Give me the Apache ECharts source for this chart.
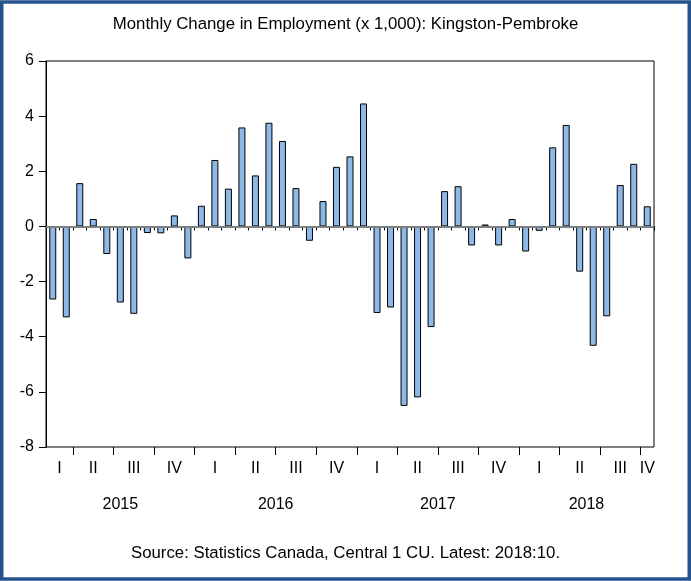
<!DOCTYPE html>
<html>
<head>
<meta charset="utf-8">
<script src="https://cdn.jsdelivr.net/npm/echarts@6/dist/echarts.min.js"></script>
<style>
    html, body { margin: 0; padding: 0; background: #fff; }
    #chart { width: 691px; height: 581px; }
</style>
</head>
<body>
<div id="chart"></div>
<script>
// first month on the chart: 2015:02, last: 2018:10
var startYear = 2015;
var startMonth = 2;

// monthly change in employment, thousands
var values2015 = [-2.65, -3.3, 1.57, 0.27, -1.0, -2.76, -3.17, -0.24, -0.25, 0.4, -1.16];
var values2016 = [0.75, 2.41, 1.37, 3.59, 1.85, 3.76, 3.1, 1.39, -0.52, 0.92, 2.16, 2.54];
var values2017 = [4.46, -3.14, -2.94, -6.51, -6.2, -3.65, 1.28, 1.46, -0.69, 0.07, -0.69, 0.27];
var values2018 = [-0.91, -0.16, 2.87, 3.68, -1.64, -4.33, -3.26, 1.5, 2.27, 0.73];

var quarterNames = ['I', 'II', 'III', 'IV'];
var yearNames = ['2015', '2016', '2017', '2018'];

var yMin = -8, yMax = 6, yStep = 2;

var font = "'Liberation Sans', Arial, sans-serif";

var values = values2015.concat(values2016, values2017, values2018);
var n = values.length;

// month / year of every bar
var months = [], years = [];
for (var i = 0; i < n; i++) {
    var m = startMonth - 1 + i;
    months.push(m % 12);
    years.push(startYear + Math.floor(m / 12));
}

var barData = values.map(function (v, i) { return [i + 0.5, v]; });

// quarter and year segments along the month axis
var quarterStarts = [], quarterCenters = [], quarterText = {};
var yearCenters = [], yearText = {};
var qStart = 0, yStart = 0;
for (var i = 1; i <= n; i++) {
    if (i === n || months[i] % 3 === 0) {
        var c = (qStart + i) / 2;
        quarterCenters.push(c);
        quarterText[c] = quarterNames[Math.floor(months[qStart] / 3)];
        if (i < n) quarterStarts.push(i);
        qStart = i;
    }
    if (i === n || months[i] === 0) {
        var yc = (yStart + i) / 2;
        yearCenters.push(yc);
        yearText[yc] = yearNames[years[yStart] - startYear];
        yStart = i;
    }
}

var option = {
    animation: false,
    backgroundColor: '#fff',
    textStyle: { fontFamily: font },
    title: [
        {
            text: 'Monthly Change in Employment (x 1,000): Kingston-Pembroke',
            left: 'center', top: 11,
            textStyle: { fontFamily: font, fontSize: 16.8, fontWeight: 'normal', color: '#000' }
        },
        {
            text: 'Source: Statistics Canada, Central 1 CU. Latest: 2018:10.',
            left: 'center', top: 540,
            textStyle: { fontFamily: font, fontSize: 16.8, fontWeight: 'normal', color: '#000' }
        }
    ],
    graphic: [{
        type: 'rect',
        shape: { x: 1.75, y: 2, width: 687.5, height: 577 },
        style: { fill: 'none', stroke: '#24528C', lineWidth: 3.5 },
        silent: true
    }],
    grid: {
        left: 46, top: 61, width: 608, height: 386,
        show: true, borderColor: '#000', borderWidth: 1
    },
    xAxis: [
        {
            type: 'value', min: 0, max: n, interval: 1,
            axisLine: { show: true, lineStyle: { color: '#000', width: 1 } },
            axisTick: { show: true, length: 4, lineStyle: { color: '#000' } },
            axisLabel: { show: false },
            splitLine: { show: false }
        },
        {
            type: 'value', min: 0, max: n, position: 'bottom',
            axisLine: { show: false },
            axisTick: { show: true, length: 8, customValues: quarterStarts, lineStyle: { color: '#000' } },
            axisLabel: {
                show: true, customValues: quarterCenters, margin: 14,
                fontSize: 16, color: '#000', fontFamily: font,
                formatter: function (v) { return quarterText[v] || ''; }
            },
            splitLine: { show: false }
        },
        {
            type: 'value', min: 0, max: n, position: 'bottom',
            axisLine: { show: false },
            axisTick: { show: false },
            axisLabel: {
                show: true, customValues: yearCenters, margin: 50,
                fontSize: 16, color: '#000', fontFamily: font,
                formatter: function (v) { return yearText[v] || ''; }
            },
            splitLine: { show: false }
        }
    ],
    yAxis: {
        type: 'value', min: yMin, max: yMax, interval: yStep,
        axisLine: { show: true, lineStyle: { color: '#000', width: 1 } },
        axisTick: { show: true, length: 7, lineStyle: { color: '#000' } },
        axisLabel: { fontSize: 16, color: '#000', margin: 12, fontFamily: font },
        splitLine: { show: false }
    },
    series: [{
        type: 'bar',
        xAxisIndex: 0,
        data: barData,
        barWidth: 7,
        itemStyle: { color: '#8DB9E6', borderColor: '#000', borderWidth: 1 },
        markLine: {
            silent: true,
            symbol: 'none',
            label: { show: false },
            lineStyle: { color: '#7F7F7F', width: 2, type: 'solid' },
            data: [{ yAxis: 0 }]
        }
    }]
};

var myChart = echarts.init(document.getElementById('chart'));
myChart.setOption(option);
</script>
</body>
</html>
